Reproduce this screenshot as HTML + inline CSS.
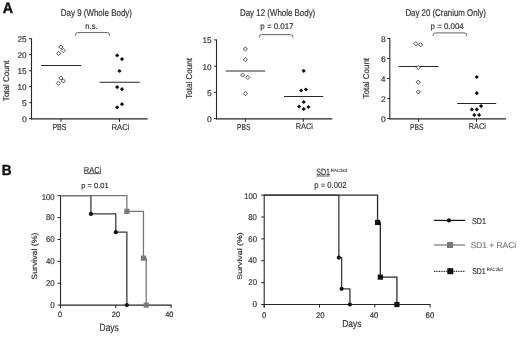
<!DOCTYPE html>
<html><head><meta charset="utf-8"><style>
html,body{margin:0;padding:0;background:#fff;width:520px;height:337px;overflow:hidden}
svg{display:block;filter:blur(0.35px)}
text{font-family:"Liberation Sans", sans-serif;text-rendering:geometricPrecision}
</style></head><body>
<svg width="520" height="337" viewBox="0 0 520 337">
<rect width="520" height="337" fill="#fff"/>
<text x="2.79" y="12.70" font-size="14.97" fill="#111" stroke="#111" stroke-width="0.4" textLength="10.33" lengthAdjust="spacingAndGlyphs" font-weight="bold">A</text>
<text x="1.84" y="174.80" font-size="14.54" fill="#111" stroke="#111" stroke-width="0.4" textLength="9.83" lengthAdjust="spacingAndGlyphs" font-weight="bold">B</text>
<line x1="31.5" y1="38.2" x2="31.5" y2="119.35" stroke="#262626" stroke-width="1.1"/>
<line x1="31.0" y1="118.85" x2="147.7" y2="118.85" stroke="#262626" stroke-width="1.1"/>
<line x1="29.0" y1="38.7" x2="31.5" y2="38.7" stroke="#262626" stroke-width="1"/>
<text x="17.52" y="42.08" font-size="8.25" fill="#333" stroke="#333" stroke-width="0.18" textLength="9.17" lengthAdjust="spacingAndGlyphs">25</text>
<line x1="29.0" y1="54.7" x2="31.5" y2="54.7" stroke="#262626" stroke-width="1"/>
<text x="17.50" y="58.08" font-size="8.25" fill="#333" stroke="#333" stroke-width="0.18" textLength="9.17" lengthAdjust="spacingAndGlyphs">20</text>
<line x1="29.0" y1="70.7" x2="31.5" y2="70.7" stroke="#262626" stroke-width="1"/>
<text x="17.52" y="74.04" font-size="8.26" fill="#333" stroke="#333" stroke-width="0.18" textLength="9.18" lengthAdjust="spacingAndGlyphs">15</text>
<line x1="29.0" y1="86.7" x2="31.5" y2="86.7" stroke="#262626" stroke-width="1"/>
<text x="17.49" y="90.08" font-size="8.25" fill="#333" stroke="#333" stroke-width="0.18" textLength="9.18" lengthAdjust="spacingAndGlyphs">10</text>
<line x1="29.0" y1="102.7" x2="31.5" y2="102.7" stroke="#262626" stroke-width="1"/>
<text x="21.94" y="106.04" font-size="8.26" fill="#333" stroke="#333" stroke-width="0.18" textLength="4.77" lengthAdjust="spacingAndGlyphs">5</text>
<line x1="29.0" y1="118.7" x2="31.5" y2="118.7" stroke="#262626" stroke-width="1"/>
<text x="21.91" y="122.08" font-size="8.25" fill="#333" stroke="#333" stroke-width="0.18" textLength="4.77" lengthAdjust="spacingAndGlyphs">0</text>
<line x1="61.0" y1="118.85" x2="61.0" y2="121.85" stroke="#262626" stroke-width="1"/>
<text x="52.38" y="129.60" font-size="8.59" fill="#333" stroke="#333" stroke-width="0.18" textLength="13.89" lengthAdjust="spacingAndGlyphs">PBS</text>
<line x1="119.5" y1="118.85" x2="119.5" y2="121.85" stroke="#262626" stroke-width="1"/>
<text x="111.52" y="129.50" font-size="8.42" fill="#333" stroke="#333" stroke-width="0.18" textLength="17.95" lengthAdjust="spacingAndGlyphs">RACi</text>
<text x="60.80" y="15.90" font-size="9.74" fill="#333" stroke="#333" stroke-width="0.18" textLength="71.15" lengthAdjust="spacingAndGlyphs">Day 9 (Whole Body)</text>
<text x="85.34" y="29.10" font-size="8.36" fill="#333" stroke="#333" stroke-width="0.18" textLength="12.30" lengthAdjust="spacingAndGlyphs">n.s.</text>
<path d="M75.2,35.6Q75.2,32.6 77.7,32.6L107.1,32.6Q109.6,32.6 109.6,35.6" stroke="#555" stroke-width="0.9" fill="none"/>
<text x="0" y="0" font-size="8.17" fill="#333" stroke="#333" stroke-width="0.18" textLength="40.63" lengthAdjust="spacingAndGlyphs" transform="translate(8.82,101.13) rotate(-90)">Total Count</text>
<line x1="41.0" y1="65.5" x2="81.1" y2="65.5" stroke="#262626" stroke-width="1.1"/>
<line x1="99.5" y1="82.2" x2="139.8" y2="82.2" stroke="#262626" stroke-width="1.1"/>
<path d="M58.6,51.35L60.65,53.4L58.6,55.449999999999996L56.550000000000004,53.4Z" stroke="#3a3a3a" stroke-width="0.9" fill="#fff"/>
<path d="M60.8,44.95L62.849999999999994,47.0L60.8,49.05L58.75,47.0Z" stroke="#3a3a3a" stroke-width="0.9" fill="#fff"/>
<path d="M63.2,48.45L65.25,50.5L63.2,52.55L61.150000000000006,50.5Z" stroke="#3a3a3a" stroke-width="0.9" fill="#fff"/>
<path d="M58.4,81.25L60.449999999999996,83.3L58.4,85.35L56.35,83.3Z" stroke="#3a3a3a" stroke-width="0.9" fill="#fff"/>
<path d="M60.8,75.95L62.849999999999994,78.0L60.8,80.05L58.75,78.0Z" stroke="#3a3a3a" stroke-width="0.9" fill="#fff"/>
<path d="M63.3,78.85000000000001L65.35,80.9L63.3,82.95L61.25,80.9Z" stroke="#3a3a3a" stroke-width="0.9" fill="#fff"/>
<path d="M117.2,53.3L119.3,55.4L117.2,57.5L115.10000000000001,55.4Z" stroke="none" stroke-width="0" fill="#111"/>
<path d="M122,57.0L124.1,59.1L122,61.2L119.9,59.1Z" stroke="none" stroke-width="0" fill="#111"/>
<path d="M119.5,68.9L121.6,71L119.5,73.1L117.4,71Z" stroke="none" stroke-width="0" fill="#111"/>
<path d="M117.2,85.0L119.3,87.1L117.2,89.19999999999999L115.10000000000001,87.1Z" stroke="none" stroke-width="0" fill="#111"/>
<path d="M122,87.10000000000001L124.1,89.2L122,91.3L119.9,89.2Z" stroke="none" stroke-width="0" fill="#111"/>
<path d="M122,102.10000000000001L124.1,104.2L122,106.3L119.9,104.2Z" stroke="none" stroke-width="0" fill="#111"/>
<path d="M117.2,105.2L119.3,107.3L117.2,109.39999999999999L115.10000000000001,107.3Z" stroke="none" stroke-width="0" fill="#111"/>
<line x1="216.5" y1="39.4" x2="216.5" y2="119.35" stroke="#262626" stroke-width="1.1"/>
<line x1="216.0" y1="118.85" x2="332.3" y2="118.85" stroke="#262626" stroke-width="1.1"/>
<line x1="214.0" y1="39.9" x2="216.5" y2="39.9" stroke="#262626" stroke-width="1"/>
<text x="202.52" y="43.24" font-size="8.26" fill="#333" stroke="#333" stroke-width="0.18" textLength="9.18" lengthAdjust="spacingAndGlyphs">15</text>
<line x1="214.0" y1="66.2" x2="216.5" y2="66.2" stroke="#262626" stroke-width="1"/>
<text x="202.49" y="69.58" font-size="8.25" fill="#333" stroke="#333" stroke-width="0.18" textLength="9.18" lengthAdjust="spacingAndGlyphs">10</text>
<line x1="214.0" y1="92.4" x2="216.5" y2="92.4" stroke="#262626" stroke-width="1"/>
<text x="206.94" y="95.74" font-size="8.26" fill="#333" stroke="#333" stroke-width="0.18" textLength="4.77" lengthAdjust="spacingAndGlyphs">5</text>
<line x1="214.0" y1="118.6" x2="216.5" y2="118.6" stroke="#262626" stroke-width="1"/>
<text x="206.91" y="121.98" font-size="8.25" fill="#333" stroke="#333" stroke-width="0.18" textLength="4.77" lengthAdjust="spacingAndGlyphs">0</text>
<line x1="245.4" y1="118.85" x2="245.4" y2="121.85" stroke="#262626" stroke-width="1"/>
<text x="237.11" y="129.60" font-size="8.74" fill="#333" stroke="#333" stroke-width="0.18" textLength="13.25" lengthAdjust="spacingAndGlyphs">PBS</text>
<line x1="303.3" y1="118.85" x2="303.3" y2="121.85" stroke="#262626" stroke-width="1"/>
<text x="295.65" y="129.40" font-size="8.28" fill="#333" stroke="#333" stroke-width="0.18" textLength="17.20" lengthAdjust="spacingAndGlyphs">RACi</text>
<text x="240.00" y="15.90" font-size="9.74" fill="#333" stroke="#333" stroke-width="0.18" textLength="75.24" lengthAdjust="spacingAndGlyphs">Day 12 (Whole Body)</text>
<text x="260.34" y="28.90" font-size="8.31" fill="#333" stroke="#333" stroke-width="0.18" textLength="33.10" lengthAdjust="spacingAndGlyphs">p = 0.017</text>
<path d="M259.2,37.6Q259.2,34.6 261.7,34.6L290.6,34.6Q293.1,34.6 293.1,37.6" stroke="#555" stroke-width="0.9" fill="none"/>
<text x="0" y="0" font-size="8.44" fill="#333" stroke="#333" stroke-width="0.18" textLength="40.53" lengthAdjust="spacingAndGlyphs" transform="translate(192.32,98.63) rotate(-90)">Total Count</text>
<line x1="225.8" y1="71.0" x2="265.1" y2="71.0" stroke="#262626" stroke-width="1.1"/>
<line x1="284.0" y1="96.5" x2="323.2" y2="96.5" stroke="#262626" stroke-width="1.1"/>
<path d="M245.4,46.95L247.45000000000002,49L245.4,51.05L243.35,49Z" stroke="#3a3a3a" stroke-width="0.9" fill="#fff"/>
<path d="M245.4,57.550000000000004L247.45000000000002,59.6L245.4,61.65L243.35,59.6Z" stroke="#3a3a3a" stroke-width="0.9" fill="#fff"/>
<path d="M242.6,73.05L244.65,75.1L242.6,77.14999999999999L240.54999999999998,75.1Z" stroke="#3a3a3a" stroke-width="0.9" fill="#fff"/>
<path d="M247.8,75.35000000000001L249.85000000000002,77.4L247.8,79.45L245.75,77.4Z" stroke="#3a3a3a" stroke-width="0.9" fill="#fff"/>
<path d="M245.4,91.55L247.45000000000002,93.6L245.4,95.64999999999999L243.35,93.6Z" stroke="#3a3a3a" stroke-width="0.9" fill="#fff"/>
<path d="M303.7,68.7L305.8,70.8L303.7,72.89999999999999L301.59999999999997,70.8Z" stroke="none" stroke-width="0" fill="#111"/>
<path d="M301.2,88.4L303.3,90.5L301.2,92.6L299.09999999999997,90.5Z" stroke="none" stroke-width="0" fill="#111"/>
<path d="M305.9,87.4L308.0,89.5L305.9,91.6L303.79999999999995,89.5Z" stroke="none" stroke-width="0" fill="#111"/>
<path d="M303.7,99.9L305.8,102L303.7,104.1L301.59999999999997,102Z" stroke="none" stroke-width="0" fill="#111"/>
<path d="M299.1,104.4L301.20000000000005,106.5L299.1,108.6L297.0,106.5Z" stroke="none" stroke-width="0" fill="#111"/>
<path d="M303.7,106.9L305.8,109L303.7,111.1L301.59999999999997,109Z" stroke="none" stroke-width="0" fill="#111"/>
<path d="M308.4,104.9L310.5,107L308.4,109.1L306.29999999999995,107Z" stroke="none" stroke-width="0" fill="#111"/>
<line x1="389.8" y1="38.0" x2="389.8" y2="119.35" stroke="#262626" stroke-width="1.1"/>
<line x1="389.3" y1="118.85" x2="506.0" y2="118.85" stroke="#262626" stroke-width="1.1"/>
<line x1="387.3" y1="38.5" x2="389.8" y2="38.5" stroke="#262626" stroke-width="1"/>
<text x="380.95" y="41.88" font-size="8.25" fill="#333" stroke="#333" stroke-width="0.18" textLength="4.78" lengthAdjust="spacingAndGlyphs">8</text>
<line x1="387.3" y1="58.5" x2="389.8" y2="58.5" stroke="#262626" stroke-width="1"/>
<text x="380.94" y="61.88" font-size="8.25" fill="#333" stroke="#333" stroke-width="0.18" textLength="4.78" lengthAdjust="spacingAndGlyphs">6</text>
<line x1="387.3" y1="78.5" x2="389.8" y2="78.5" stroke="#262626" stroke-width="1"/>
<text x="380.85" y="81.84" font-size="8.26" fill="#333" stroke="#333" stroke-width="0.18" textLength="4.75" lengthAdjust="spacingAndGlyphs">4</text>
<line x1="387.3" y1="98.5" x2="389.8" y2="98.5" stroke="#262626" stroke-width="1"/>
<text x="380.99" y="101.88" font-size="8.25" fill="#333" stroke="#333" stroke-width="0.18" textLength="4.79" lengthAdjust="spacingAndGlyphs">2</text>
<line x1="387.3" y1="118.5" x2="389.8" y2="118.5" stroke="#262626" stroke-width="1"/>
<text x="380.91" y="121.88" font-size="8.25" fill="#333" stroke="#333" stroke-width="0.18" textLength="4.77" lengthAdjust="spacingAndGlyphs">0</text>
<line x1="418.5" y1="118.85" x2="418.5" y2="121.85" stroke="#262626" stroke-width="1"/>
<text x="410.10" y="129.60" font-size="8.74" fill="#333" stroke="#333" stroke-width="0.18" textLength="13.46" lengthAdjust="spacingAndGlyphs">PBS</text>
<line x1="476.5" y1="118.85" x2="476.5" y2="121.85" stroke="#262626" stroke-width="1"/>
<text x="468.75" y="129.40" font-size="8.28" fill="#333" stroke="#333" stroke-width="0.18" textLength="17.20" lengthAdjust="spacingAndGlyphs">RACi</text>
<text x="405.40" y="15.90" font-size="9.74" fill="#333" stroke="#333" stroke-width="0.18" textLength="80.43" lengthAdjust="spacingAndGlyphs">Day 20 (Cranium Only)</text>
<text x="430.54" y="28.90" font-size="8.31" fill="#333" stroke="#333" stroke-width="0.18" textLength="33.24" lengthAdjust="spacingAndGlyphs">p = 0.004</text>
<path d="M433.0,35.9Q433.0,32.9 435.5,32.9L464.4,32.9Q466.9,32.9 466.9,35.9" stroke="#555" stroke-width="0.9" fill="none"/>
<text x="0" y="0" font-size="8.31" fill="#333" stroke="#333" stroke-width="0.18" textLength="40.53" lengthAdjust="spacingAndGlyphs" transform="translate(369.22,98.43) rotate(-90)">Total Count</text>
<line x1="398.9" y1="66.5" x2="438.4" y2="66.5" stroke="#262626" stroke-width="1.1"/>
<line x1="457.2" y1="103.5" x2="496.2" y2="103.5" stroke="#262626" stroke-width="1.1"/>
<path d="M415.9,41.650000000000006L417.95,43.7L415.9,45.75L413.84999999999997,43.7Z" stroke="#3a3a3a" stroke-width="0.9" fill="#fff"/>
<path d="M420.6,42.650000000000006L422.65000000000003,44.7L420.6,46.75L418.55,44.7Z" stroke="#3a3a3a" stroke-width="0.9" fill="#fff"/>
<path d="M418.3,65.45L420.35,67.5L418.3,69.55L416.25,67.5Z" stroke="#3a3a3a" stroke-width="0.9" fill="#fff"/>
<path d="M418.3,80.15L420.35,82.2L418.3,84.25L416.25,82.2Z" stroke="#3a3a3a" stroke-width="0.9" fill="#fff"/>
<path d="M418.3,89.85000000000001L420.35,91.9L418.3,93.95L416.25,91.9Z" stroke="#3a3a3a" stroke-width="0.9" fill="#fff"/>
<path d="M476.8,74.9L478.90000000000003,77L476.8,79.1L474.7,77Z" stroke="none" stroke-width="0" fill="#111"/>
<path d="M476.8,91.10000000000001L478.90000000000003,93.2L476.8,95.3L474.7,93.2Z" stroke="none" stroke-width="0" fill="#111"/>
<path d="M481.1,104.0L483.20000000000005,106.1L481.1,108.19999999999999L479.0,106.1Z" stroke="none" stroke-width="0" fill="#111"/>
<path d="M471.8,107.30000000000001L473.90000000000003,109.4L471.8,111.5L469.7,109.4Z" stroke="none" stroke-width="0" fill="#111"/>
<path d="M476.8,107.30000000000001L478.90000000000003,109.4L476.8,111.5L474.7,109.4Z" stroke="none" stroke-width="0" fill="#111"/>
<path d="M474.3,112.9L476.40000000000003,115L474.3,117.1L472.2,115Z" stroke="none" stroke-width="0" fill="#111"/>
<path d="M479.1,112.9L481.20000000000005,115L479.1,117.1L477.0,115Z" stroke="none" stroke-width="0" fill="#111"/>
<line x1="60.5" y1="195.20000000000002" x2="60.5" y2="308.1" stroke="#262626" stroke-width="1.1"/>
<line x1="60.0" y1="305.1" x2="171.60000000000002" y2="305.1" stroke="#262626" stroke-width="1.1"/>
<line x1="57.5" y1="195.70000000000002" x2="60.5" y2="195.70000000000002" stroke="#262626" stroke-width="1"/>
<line x1="57.5" y1="217.58" x2="60.5" y2="217.58" stroke="#262626" stroke-width="1"/>
<line x1="57.5" y1="239.46000000000004" x2="60.5" y2="239.46000000000004" stroke="#262626" stroke-width="1"/>
<line x1="57.5" y1="261.34000000000003" x2="60.5" y2="261.34000000000003" stroke="#262626" stroke-width="1"/>
<line x1="57.5" y1="283.22" x2="60.5" y2="283.22" stroke="#262626" stroke-width="1"/>
<line x1="57.5" y1="305.1" x2="60.5" y2="305.1" stroke="#262626" stroke-width="1"/>
<text x="41.83" y="200.01" font-size="8.35" fill="#333" stroke="#333" stroke-width="0.18" textLength="12.82" lengthAdjust="spacingAndGlyphs">100</text>
<text x="46.00" y="220.29" font-size="8.35" fill="#333" stroke="#333" stroke-width="0.18" textLength="8.65" lengthAdjust="spacingAndGlyphs">80</text>
<text x="46.00" y="242.17" font-size="8.35" fill="#333" stroke="#333" stroke-width="0.18" textLength="8.66" lengthAdjust="spacingAndGlyphs">60</text>
<text x="46.01" y="264.05" font-size="8.35" fill="#333" stroke="#333" stroke-width="0.18" textLength="8.65" lengthAdjust="spacingAndGlyphs">40</text>
<text x="46.00" y="285.93" font-size="8.35" fill="#333" stroke="#333" stroke-width="0.18" textLength="8.66" lengthAdjust="spacingAndGlyphs">20</text>
<text x="50.15" y="307.81" font-size="8.35" fill="#333" stroke="#333" stroke-width="0.18" textLength="4.51" lengthAdjust="spacingAndGlyphs">0</text>
<line x1="60.5" y1="305.1" x2="60.5" y2="308.1" stroke="#262626" stroke-width="1"/>
<text x="58.05" y="317.40" font-size="7.73" fill="#333" stroke="#333" stroke-width="0.18" textLength="4.10" lengthAdjust="spacingAndGlyphs">0</text>
<line x1="115.80000000000001" y1="305.1" x2="115.80000000000001" y2="308.1" stroke="#262626" stroke-width="1"/>
<text x="111.86" y="317.40" font-size="7.73" fill="#333" stroke="#333" stroke-width="0.18" textLength="8.20" lengthAdjust="spacingAndGlyphs">20</text>
<line x1="171.10000000000002" y1="305.1" x2="171.10000000000002" y2="308.1" stroke="#262626" stroke-width="1"/>
<text x="165.26" y="317.40" font-size="7.73" fill="#333" stroke="#333" stroke-width="0.18" textLength="8.20" lengthAdjust="spacingAndGlyphs">40</text>
<text x="99.56" y="331.10" font-size="10.47" fill="#333" stroke="#333" stroke-width="0.18" textLength="19.20" lengthAdjust="spacingAndGlyphs">Days</text>
<text x="0" y="0" font-size="7.73" fill="#333" stroke="#333" stroke-width="0.18" textLength="46.94" lengthAdjust="spacingAndGlyphs" transform="translate(36.90,279.65) rotate(-90)">Survival (%)</text>
<path d="M60.50,195.70L90.92,195.70L90.92,213.97L115.80,213.97L115.80,232.13L126.86,232.13L126.86,305.10" stroke="#3a3a3a" stroke-width="1.3" fill="none" stroke-linejoin="miter"/>
<path d="M60.50,195.70L126.86,195.70L126.86,211.34L143.45,211.34L143.45,258.17L146.22,258.17L146.22,305.10" stroke="#767676" stroke-width="1.3" fill="none" stroke-linejoin="miter"/>
<circle cx="90.92" cy="213.97" r="2.1" fill="#111"/>
<circle cx="115.80" cy="232.13" r="2.1" fill="#111"/>
<circle cx="126.86" cy="305.10" r="2.1" fill="#111"/>
<rect x="124.26" y="208.74" width="5.2" height="5.2" fill="#7a7a7a"/>
<rect x="140.85" y="255.57" width="5.2" height="5.2" fill="#7a7a7a"/>
<rect x="143.62" y="302.50" width="5.2" height="5.2" fill="#7a7a7a"/>
<line x1="264.2" y1="194.6" x2="264.2" y2="307.5" stroke="#262626" stroke-width="1.1"/>
<line x1="263.7" y1="304.5" x2="430.6" y2="304.5" stroke="#262626" stroke-width="1.1"/>
<line x1="261.2" y1="195.1" x2="264.2" y2="195.1" stroke="#262626" stroke-width="1"/>
<line x1="261.2" y1="216.98" x2="264.2" y2="216.98" stroke="#262626" stroke-width="1"/>
<line x1="261.2" y1="238.86" x2="264.2" y2="238.86" stroke="#262626" stroke-width="1"/>
<line x1="261.2" y1="260.74" x2="264.2" y2="260.74" stroke="#262626" stroke-width="1"/>
<line x1="261.2" y1="282.62" x2="264.2" y2="282.62" stroke="#262626" stroke-width="1"/>
<line x1="261.2" y1="304.5" x2="264.2" y2="304.5" stroke="#262626" stroke-width="1"/>
<text x="244.13" y="199.41" font-size="8.35" fill="#333" stroke="#333" stroke-width="0.18" textLength="12.82" lengthAdjust="spacingAndGlyphs">100</text>
<text x="248.30" y="219.69" font-size="8.35" fill="#333" stroke="#333" stroke-width="0.18" textLength="8.65" lengthAdjust="spacingAndGlyphs">80</text>
<text x="248.30" y="241.57" font-size="8.35" fill="#333" stroke="#333" stroke-width="0.18" textLength="8.66" lengthAdjust="spacingAndGlyphs">60</text>
<text x="248.31" y="263.45" font-size="8.35" fill="#333" stroke="#333" stroke-width="0.18" textLength="8.65" lengthAdjust="spacingAndGlyphs">40</text>
<text x="248.30" y="285.33" font-size="8.35" fill="#333" stroke="#333" stroke-width="0.18" textLength="8.66" lengthAdjust="spacingAndGlyphs">20</text>
<text x="252.45" y="307.21" font-size="8.35" fill="#333" stroke="#333" stroke-width="0.18" textLength="4.51" lengthAdjust="spacingAndGlyphs">0</text>
<line x1="264.2" y1="304.5" x2="264.2" y2="307.5" stroke="#262626" stroke-width="1"/>
<text x="262.03" y="317.90" font-size="8.16" fill="#333" stroke="#333" stroke-width="0.18" textLength="4.35" lengthAdjust="spacingAndGlyphs">0</text>
<line x1="319.5" y1="304.5" x2="319.5" y2="307.5" stroke="#262626" stroke-width="1"/>
<text x="315.91" y="317.90" font-size="8.16" fill="#333" stroke="#333" stroke-width="0.18" textLength="8.70" lengthAdjust="spacingAndGlyphs">20</text>
<line x1="374.8" y1="304.5" x2="374.8" y2="307.5" stroke="#262626" stroke-width="1"/>
<text x="369.71" y="317.90" font-size="8.16" fill="#333" stroke="#333" stroke-width="0.18" textLength="8.70" lengthAdjust="spacingAndGlyphs">40</text>
<line x1="430.1" y1="304.5" x2="430.1" y2="307.5" stroke="#262626" stroke-width="1"/>
<text x="425.61" y="317.90" font-size="8.16" fill="#333" stroke="#333" stroke-width="0.18" textLength="8.70" lengthAdjust="spacingAndGlyphs">60</text>
<text x="342.26" y="327.40" font-size="10.03" fill="#333" stroke="#333" stroke-width="0.18" textLength="19.30" lengthAdjust="spacingAndGlyphs">Days</text>
<text x="0" y="0" font-size="6.76" fill="#333" stroke="#333" stroke-width="0.18" textLength="47.34" lengthAdjust="spacingAndGlyphs" transform="translate(241.70,279.65) rotate(-90)">Survival (%)</text>
<path d="M264.20,195.10L377.56,195.10L377.56,222.45L380.33,222.45L380.33,277.15L396.92,277.15L396.92,304.50" stroke="#2a2a2a" stroke-width="1.3" fill="none" stroke-linejoin="miter"/>
<path d="M264.20,195.10L338.86,195.10L338.86,257.57L341.62,257.57L341.62,288.86L349.91,288.86L349.91,304.50" stroke="#3a3a3a" stroke-width="1.3" fill="none" stroke-linejoin="miter"/>
<rect x="374.96" y="219.85" width="5.2" height="5.2" fill="#111"/>
<rect x="377.73" y="274.55" width="5.2" height="5.2" fill="#111"/>
<rect x="394.32" y="301.90" width="5.2" height="5.2" fill="#111"/>
<circle cx="338.86" cy="257.57" r="2.1" fill="#111"/>
<circle cx="341.62" cy="288.86" r="2.1" fill="#111"/>
<circle cx="349.91" cy="304.50" r="2.1" fill="#111"/>
<text x="83.83" y="172.70" font-size="8.56" fill="#333" stroke="#333" stroke-width="0.18" textLength="17.52" lengthAdjust="spacingAndGlyphs">RACi</text>
<line x1="84.2" y1="173.6" x2="101.1" y2="173.6" stroke="#333" stroke-width="0.8"/>
<text x="81.37" y="187.60" font-size="7.30" fill="#333" stroke="#333" stroke-width="0.18" textLength="27.25" lengthAdjust="spacingAndGlyphs">p = 0.01</text>
<text x="316.13" y="175.00" font-size="9.02" fill="#333" stroke="#333" stroke-width="0.18" textLength="13.87" lengthAdjust="spacingAndGlyphs">SD1</text>
<line x1="316.2" y1="176.0" x2="330.0" y2="176.0" stroke="#333" stroke-width="0.8"/>
<text x="330.84" y="171.60" font-size="4.55" fill="#333" stroke="#333" stroke-width="0.08" textLength="16.34" lengthAdjust="spacingAndGlyphs">RAC2kd</text>
<text x="314.25" y="188.30" font-size="8.74" fill="#333" stroke="#333" stroke-width="0.18" textLength="32.28" lengthAdjust="spacingAndGlyphs">p = 0.002</text>
<line x1="434.0" y1="220.4" x2="465.0" y2="220.4" stroke="#111" stroke-width="1.2"/>
<circle cx="449.0" cy="220.4" r="2.1" fill="#111"/>
<text x="471.92" y="223.90" font-size="8.45" fill="#333" stroke="#333" stroke-width="0.18" textLength="13.98" lengthAdjust="spacingAndGlyphs">SD1</text>
<line x1="434.0" y1="245.0" x2="465.0" y2="245.0" stroke="#767676" stroke-width="1.2"/>
<rect x="447.0" y="242.0" width="6" height="6" fill="#777"/>
<text x="470.67" y="247.60" font-size="8.42" fill="#7a7a7a" stroke="#7a7a7a" stroke-width="0.18" textLength="45.45" lengthAdjust="spacingAndGlyphs">SD1 + RACi</text>
<line x1="434" y1="271.3" x2="465" y2="271.3" stroke="#111" stroke-width="1.2" stroke-dasharray="0.9 0.8"/>
<rect x="447.3" y="268.2" width="6" height="6" fill="#111"/>
<text x="472.14" y="274.10" font-size="8.45" fill="#333" stroke="#333" stroke-width="0.18" textLength="13.45" lengthAdjust="spacingAndGlyphs">SD1</text>
<text x="486.65" y="270.90" font-size="4.69" fill="#333" stroke="#333" stroke-width="0.08" textLength="15.93" lengthAdjust="spacingAndGlyphs">RAC2kd</text>
</svg>
</body></html>
